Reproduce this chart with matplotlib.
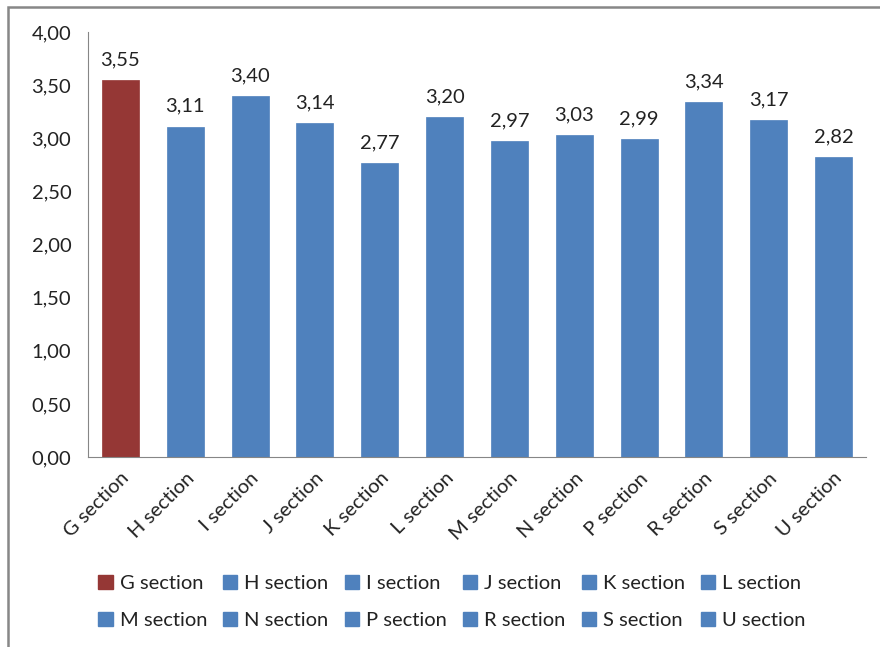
import matplotlib
matplotlib.use("Agg")
import matplotlib.pyplot as plt
from matplotlib.patches import Rectangle, Patch

categories = ["G section", "H section", "I section", "J section", "K section", "L section",
              "M section", "N section", "P section", "R section", "S section", "U section"]
values = [3.55, 3.11, 3.40, 3.14, 2.77, 3.20, 2.97, 3.03, 2.99, 3.34, 3.17, 2.82]
colors = ["#953735"] + ["#4F81BD"] * 11
yticks = [0, 0.5, 1.0, 1.5, 2.0, 2.5, 3.0, 3.5, 4.0]

plt.rcParams['font.family'] = ['Lato', 'DejaVu Sans']
FS = 14.5

fig = plt.figure(figsize=(8.8, 6.47), dpi=100)
W, H = 880, 647
ax = fig.add_axes([88 / W, 1 - 457 / H, (866 - 88) / W, (457 - 32) / H])

x = list(range(len(categories)))
ax.bar(x, values, width=0.57, color=colors, edgecolor=colors, linewidth=0.5)
for xi, v in zip(x, values):
    ax.text(xi, v + 0.11, f"{v:.2f}".replace(".", ","), ha="center", va="bottom",
            fontsize=FS, color="#222222")

ax.set_xlim(-0.5, len(categories) - 0.5)
ax.set_ylim(0, 4.0)
ax.set_yticks(yticks)
ax.set_yticklabels([f"{t:.2f}".replace(".", ",") for t in yticks], fontsize=FS, color="#222222")
ax.set_xticks(x)
ax.set_xticklabels(categories, rotation=45, ha="right", rotation_mode="anchor",
                   fontsize=FS, color="#222222")
ax.tick_params(axis="both", length=0, pad=12)
ax.tick_params(axis="x", pad=9)
for s in ["top", "right"]:
    ax.spines[s].set_visible(False)
ax.spines["left"].set_color("#868686")
ax.spines["bottom"].set_color("#868686")

handles = [Patch(facecolor=c, edgecolor=c) for c in colors]
ncol = 6
order = [r * ncol + c for c in range(ncol) for r in range(2)]
fig.legend([handles[i] for i in order], [categories[i] for i in order], ncol=ncol,
           loc="center", bbox_to_anchor=(452 / W, 1 - 602 / H),
           frameon=False, fontsize=FS, handlelength=0.7, handleheight=0.7,
           handletextpad=0.35, columnspacing=0.8, labelspacing=0.95, labelcolor="#222222")

fig.patches.append(Rectangle((8 / W, -0.1), 1.2, 1 - 7 / H + 0.1, transform=fig.transFigure,
                             fill=False, edgecolor="#878787", linewidth=1.8))

fig.savefig("out.png", dpi=100)
